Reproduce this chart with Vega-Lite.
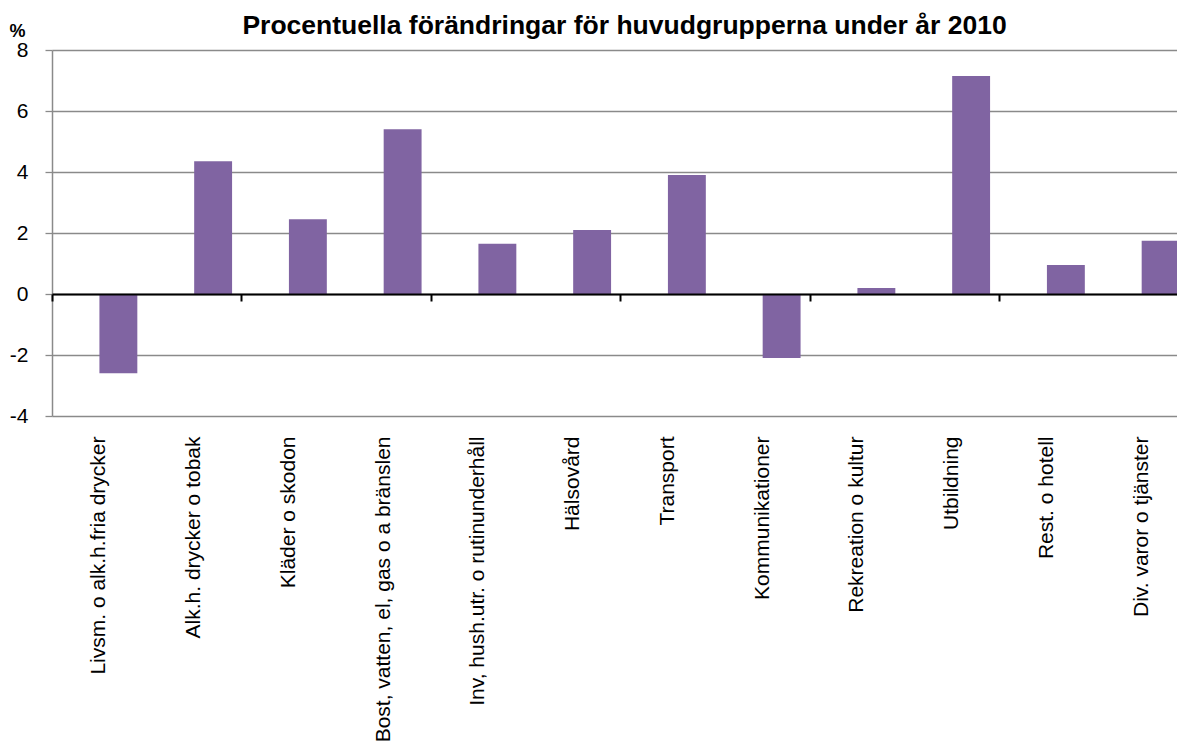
{
  "$schema": "https://vega.github.io/schema/vega-lite/v6.json",
  "width": 1125,
  "height": 366,
  "autosize": {"type": "none"},
  "padding": {"left": 52, "top": 50, "right": 0, "bottom": 333},
  "background": "white",
  "config": {"view": {"stroke": null}, "font": "Liberation Sans"},
  "title": {
    "text": "Procentuella förändringar för huvudgrupperna under år 2010",
    "font": "Liberation Sans",
    "fontSize": 26.5,
    "fontWeight": "bold",
    "color": "black",
    "anchor": "middle",
    "frame": "group",
    "dx": 10,
    "offset": -17
  },
  "data": {
    "values": [
      {"grupp": "Livsm. o alk.h.fria drycker", "procent": -2.6},
      {"grupp": "Alk.h. drycker o tobak", "procent": 4.35},
      {"grupp": "Kläder o skodon", "procent": 2.45},
      {"grupp": "Bost, vatten, el, gas o a bränslen", "procent": 5.4},
      {"grupp": "Inv, hush.utr. o rutinunderhåll", "procent": 1.65},
      {"grupp": "Hälsovård", "procent": 2.1},
      {"grupp": "Transport", "procent": 3.9},
      {"grupp": "Kommunikationer", "procent": -2.1},
      {"grupp": "Rekreation o kultur", "procent": 0.2},
      {"grupp": "Utbildning", "procent": 7.15},
      {"grupp": "Rest. o hotell", "procent": 0.95},
      {"grupp": "Div. varor o tjänster", "procent": 1.75}
    ]
  },
  "layer": [
    {
      "mark": {"type": "bar", "color": "#8064A2", "width": {"band": 0.4}, "xOffset": 19},
      "encoding": {
        "x": {
          "field": "grupp",
          "type": "nominal",
          "sort": null,
          "scale": {"range": [0, 1137], "paddingInner": 0, "paddingOuter": 0},
          "axis": {
            "orient": "bottom",
            "title": null,
            "labelAngle": -90,
            "labelFont": "Liberation Sans",
            "labelFontSize": 21,
            "labelColor": "black",
            "labelPadding": 20,
            "labelLimit": 500,
            "labelOverlap": false,
            "ticks": false,
            "domain": false,
            "grid": false
          }
        },
        "y": {
          "field": "procent",
          "type": "quantitative",
          "scale": {"domain": [-4, 8], "nice": false, "zero": false},
          "axis": {
            "values": [-4, -2, 0, 2, 4, 6, 8],
            "labelExpr": "datum.value < 0 ? '-' + abs(datum.value) : '' + datum.value",
            "grid": true,
            "gridColor": "#8a8a8a",
            "gridWidth": 1.3,
            "domainColor": "#8a8a8a",
            "domainWidth": 1.5,
            "tickColor": "#8a8a8a",
            "tickWidth": 1.3,
            "tickSize": 7,
            "labelFont": "Liberation Sans",
            "labelFontSize": 21,
            "labelColor": "black",
            "labelPadding": 17,
            "title": "%",
            "titleAngle": 0,
            "titleFont": "Liberation Sans",
            "titleFontSize": 18,
            "titleFontWeight": "bold",
            "titleColor": "black",
            "titleAlign": "center",
            "titleBaseline": "alphabetic",
            "titleX": -35,
            "titleY": -14
          }
        }
      }
    },
    {
      "mark": {"type": "point", "opacity": 0},
      "encoding": {
        "x": {
          "field": "grupp",
          "type": "nominal",
          "sort": null,
          "axis": {
            "orient": "top",
            "offset": -244,
            "title": null,
            "labels": false,
            "grid": false,
            "domainColor": "black",
            "domainWidth": 2,
            "tickColor": "black",
            "tickWidth": 2,
            "tickSize": -7,
            "tickOffset": -47.4,
            "values": ["Livsm. o alk.h.fria drycker", "Kläder o skodon", "Inv, hush.utr. o rutinunderhåll", "Transport", "Rekreation o kultur", "Rest. o hotell"],
            "zindex": 1
          }
        }
      }
    }
  ]
}
